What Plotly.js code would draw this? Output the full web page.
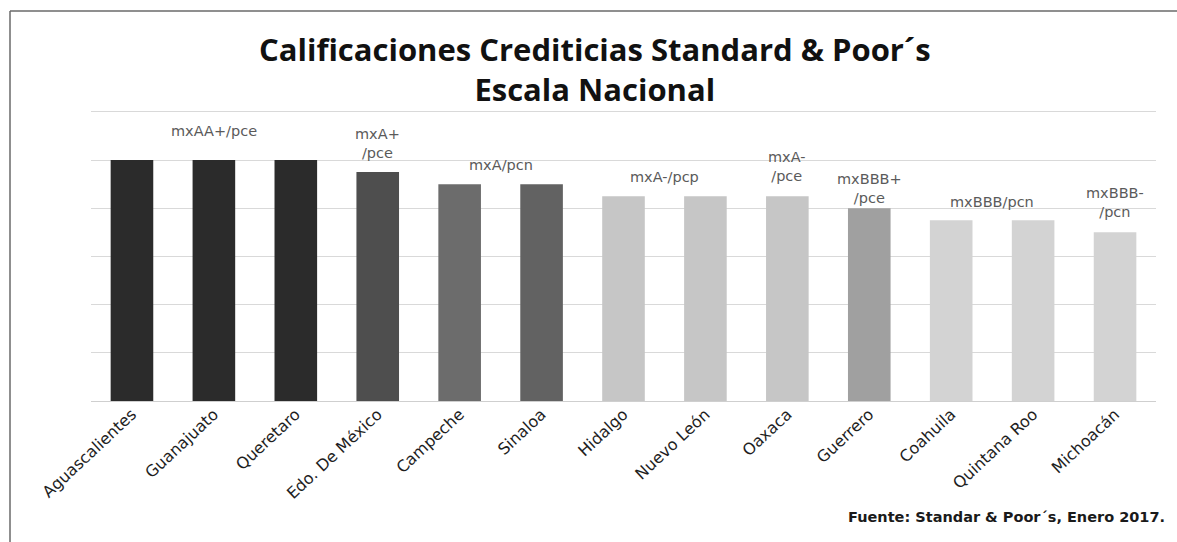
<!DOCTYPE html>
<html>
<head>
<meta charset="utf-8">
<script src="https://cdn.plot.ly/plotly-3.0.1.min.js"></script>
<style>
html,body{margin:0;padding:0;background:#fff;}
#chart{width:1177px;height:542px;}
</style>
</head>
<body>
<div id="chart"></div>
<script>
// ---- data ----
var states = ["Aguascalientes","Guanajuato","Queretaro","Edo. De México","Campeche","Sinaloa","Hidalgo","Nuevo León","Oaxaca","Guerrero","Coahuila","Quintana Roo","Michoacán"];
var ratingScore = [5, 5, 5, 4.75, 4.5, 4.5, 4.25, 4.25, 4.25, 4, 3.75, 3.75, 3.5];
var barColors = ["#2b2b2b","#2b2b2b","#2b2b2b","#4e4e4e","#6c6c6c","#626262","#c6c6c6","#c6c6c6","#c6c6c6","#a0a0a0","#d3d3d3","#d3d3d3","#d3d3d3"];
var ratingLabels = ["mxAA+/pce","mxA+<br>/pce","mxA/pcn","mxA-/pcp","mxA-<br>/pce","mxBBB+<br>/pce","mxBBB/pcn","mxBBB-<br>/pcn"];
var labelFirstState = [0, 3, 4, 6, 8, 9, 10, 12];
var labelLastState  = [2, 3, 5, 7, 8, 9, 11, 12];
var titleLines = ["Calificaciones Crediticias Standard & Poor´s", "Escala Nacional"];
var sourceNote = "Fuente: Standar & Poor´s, Enero 2017.";

// ---- layout helpers ----
var W = 1177, H = 542;
var yTop = 6.06;
var mL = 91, mR = 21, mB = 141;
var unitPx = 289 / 6;
var mT = Math.round(H - mB - unitPx * yTop);
var pw = W - mL - mR, ph = H - mT - mB;
function px(x){ return (x - mL) / pw; }
function py(y){ return (H - mB - y) / ph; }

var trace = {
  type: "bar",
  x: states,
  y: ratingScore,
  marker: {color: barColors, line: {width: 0}},
  hoverinfo: "x+y"
};

var shiftFor = [19, 9, 9, 9, 10, 0, 8, 10];
var annotations = ratingLabels.map(function(t, i){
  var a = labelFirstState[i], b = labelLastState[i];
  var xc = (a + b) / 2;
  if (a === 0 && b === 2) xc = 1;
  return {
    x: xc, y: ratingScore[b], xref: "x", yref: "y",
    text: t, showarrow: false, yanchor: "bottom", xanchor: "center",
    yshift: shiftFor[i],
    font: {family: "'DejaVu Sans', sans-serif", size: 14.5, color: "#5a5a5a"}
  };
});
annotations.push({
  xref: "paper", yref: "paper", x: px(595), y: py(69),
  xanchor: "center", yanchor: "middle", showarrow: false,
  text: "<b>" + titleLines.join("<br>") + "</b>",
  font: {family: "'Open Sans', Lato, sans-serif", size: 31, color: "#111111"}
});
annotations.push({
  xref: "paper", yref: "paper", x: px(1167), y: py(517),
  xanchor: "right", yanchor: "middle", showarrow: false,
  text: "<b>" + sourceNote + "</b>",
  font: {family: "'DejaVu Sans', sans-serif", size: 14.5, color: "#1a1a1a"}
});

var layout = {
  width: W, height: H,
  margin: {l: mL, r: mR, t: mT, b: mB, pad: 0},
  paper_bgcolor: "#ffffff",
  plot_bgcolor: "#ffffff",
  showlegend: false,
  bargap: 0.48,
  xaxis: {
    type: "category",
    tickangle: -43,
    ticks: "",
    showgrid: false,
    showline: false,
    zeroline: false,
    tickfont: {family: "'DejaVu Sans', sans-serif", size: 16, color: "#1e1e1e"}
  },
  yaxis: {
    range: [0, yTop],
    dtick: 1,
    showticklabels: false,
    ticks: "",
    showgrid: true,
    gridcolor: "#d9d9d9",
    gridwidth: 1,
    zeroline: true,
    zerolinecolor: "#cfcfcf",
    zerolinewidth: 1,
    showline: false
  },
  annotations: annotations,
  shapes: [
    {type: "line", xref: "paper", yref: "paper", x0: px(10), x1: px(10), y0: py(11), y1: py(542), line: {color: "#6a6a6a", width: 1.5}},
    {type: "line", xref: "paper", yref: "paper", x0: px(10), x1: px(1177), y0: py(11), y1: py(11), line: {color: "#6a6a6a", width: 1.5}}
  ]
};

Plotly.newPlot("chart", [trace], layout, {displayModeBar: false, staticPlot: true});
</script>
</body>
</html>
